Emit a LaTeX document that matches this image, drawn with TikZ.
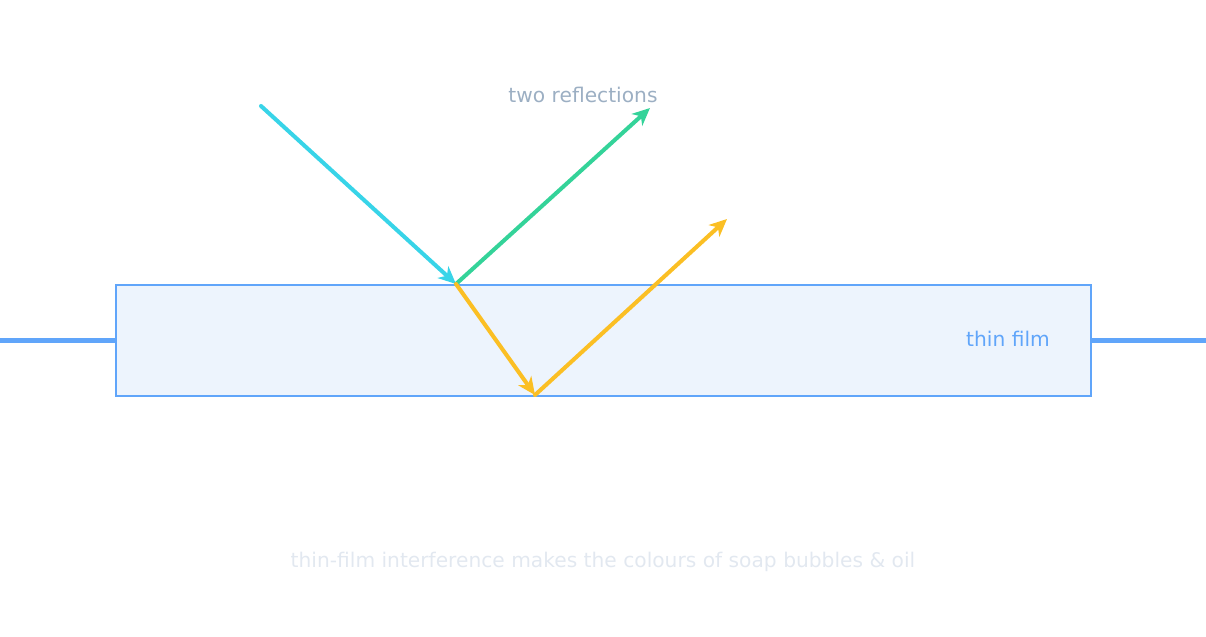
\documentclass[tikz,border=0pt]{standalone}
\usepackage{fontspec}
\setmainfont{DejaVu Sans}
\usetikzlibrary{arrows.meta}
\definecolor{cyanray}{HTML}{38D4E8}
\definecolor{greenray}{HTML}{34D399}
\definecolor{yellowray}{HTML}{FBBF24}
\definecolor{filmline}{HTML}{60A5FA}
\definecolor{filmfill}{HTML}{EDF4FD}
\definecolor{labelgray}{HTML}{9CAFC3}
\definecolor{captiongray}{HTML}{E2E8F0}
\begin{document}
\begin{tikzpicture}[x=0.02cm,y=-0.02cm,
  ray/.style={line width=2.3pt,line cap=round,-{Stealth[length=10pt,width=9pt,inset=3pt]}},
  lbl/.style={font=\fontsize{11.5pt}{14pt}\selectfont,inner sep=0pt}]
\useasboundingbox (0,0) rectangle (1206,636);
\node[draw=filmline,fill=filmfill,line width=1.6pt,minimum width=975\pgflinewidth,inner sep=0pt] (film) at (603.5,340.5) {};
\draw[draw=filmline,fill=filmfill,line width=1.6pt] (116,285) rectangle (1091,396);
\coordinate (src) at (261,106);
\coordinate (hit) at (456,284);
\coordinate (r1) at (650,108);
\coordinate (bot) at (535,395);
\coordinate (r2) at (727,219);
\draw[ray,cyanray] (src) -- (hit);
\draw[ray,greenray] (hit) -- (r1);
\draw[ray,yellowray] (hit) -- (bot);
\draw[ray,yellowray] (bot) -- (r2);
\node[lbl,text=labelgray] (t1) at (583,95) {two reflections};
\node[lbl,text=filmline] (t2) at (1008,339) {thin film};
\node[lbl,text=captiongray] (cap) at (603,562) {thin-film interference makes the colours of soap bubbles \& oil};
\end{tikzpicture}
\end{document}
